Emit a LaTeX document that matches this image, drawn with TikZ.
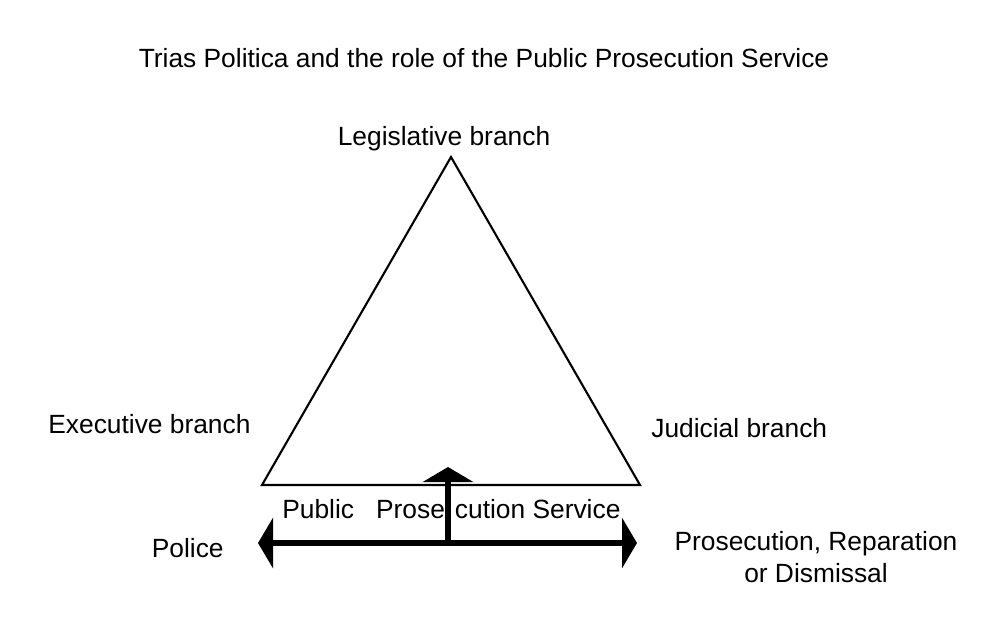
\documentclass[tikz,border=0pt]{standalone}
\usepackage{fontspec}
\setmainfont{Liberation Sans}
\usepackage{tikz}
\usetikzlibrary{arrows.meta,positioning}

\begin{document}
\begin{tikzpicture}[x=0.02cm,y=-0.02cm,
    >={Triangle[length=0.3cm,width=1cm]},
    txt/.style={inner sep=0pt,font=\fontsize{15pt}{18.2pt}\selectfont},
    power/.style={line width=1.2pt},
    route/.style={line width=3.2pt}]
    \useasboundingbox (0,0) rectangle (1000,620);
    % triangle of powers
    \coordinate (leg) at (451,157);
    \coordinate (exe) at (262,485);
    \coordinate (jud) at (640,485);
    \draw[power] (leg) -- (exe) -- (jud) -- cycle;
    \node[txt,anchor=base] (title) at (484,67) {Trias Politica and the role of the Public Prosecution Service};
    \node[txt,anchor=base] (legl) at (444,145) {Legislative branch};
    \node[txt,anchor=base west] (exel) at (48,433) {Executive branch};
    \node[txt,anchor=base west] (judl) at (651,437) {Judicial branch};
    % prosecution service
    \coordinate (pol) at (258,543);
    \coordinate (out) at (637,543);
    \coordinate (oms) at (448,543);
    \coordinate (omstop) at (448,467);
    \draw[route,<->] (pol) -- (out);
    \draw[route,->] (oms) -- (omstop);
    \node[txt,anchor=base west] (omsl) at (282,518) {Public\ \ \ Prose\kern5.7pt cution Service};
    \node[txt,anchor=base east] (poll) at (224,557) {Police};
    \node[txt,anchor=base,align=center] (outl) at (816,582) {Prosecution, Reparation\\or Dismissal};
\end{tikzpicture}
\end{document}
